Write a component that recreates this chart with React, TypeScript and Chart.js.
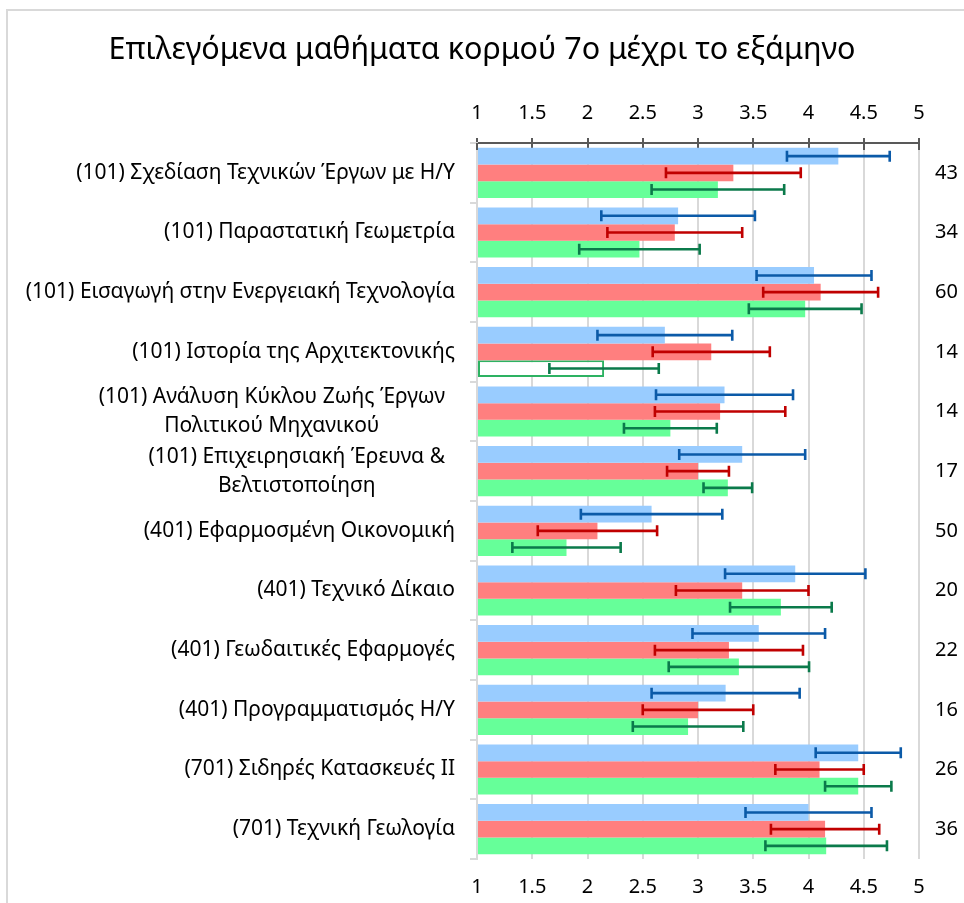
import React, { useEffect, useRef } from "react";
import { Chart, registerables } from "chart.js";

Chart.register(...registerables);

const FONT = "'Noto Sans', sans-serif";

const chartTitle = "Επιλεγόμενα μαθήματα κορμού 7ο μέχρι το εξάμηνο";

const categoryLines: string[][] = [
  ["(101) Σχεδίαση Τεχνικών Έργων με Η/Υ"],
  ["(101) Παραστατική Γεωμετρία"],
  ["(101) Εισαγωγή στην Ενεργειακή Τεχνολογία"],
  ["(101) Ιστορία της Αρχιτεκτονικής"],
  ["(101) Ανάλυση Κύκλου Ζωής Έργων", "Πολιτικού Μηχανικού"],
  ["(101) Επιχειρησιακή Έρευνα &", "Βελτιστοποίηση"],
  ["(401) Εφαρμοσμένη Οικονομική"],
  ["(401) Τεχνικό Δίκαιο"],
  ["(401) Γεωδαιτικές Εφαρμογές"],
  ["(401) Προγραμματισμός Η/Υ"],
  ["(701) Σιδηρές Κατασκευές ΙΙ"],
  ["(701) Τεχνική Γεωλογία"],
];

const countLabels = ["43", "34", "60", "14", "14", "17", "50", "20", "22", "16", "26", "36"];

const blueValues = [4.27, 2.82, 4.05, 2.7, 3.24, 3.4, 2.58, 3.88, 3.55, 3.25, 4.45, 4.0];
const blueErrors = [0.465, 0.695, 0.52, 0.61, 0.62, 0.57, 0.64, 0.635, 0.6, 0.67, 0.385, 0.57];

const redValues = [3.32, 2.79, 4.11, 3.12, 3.2, 3.0, 2.09, 3.4, 3.28, 3.0, 4.1, 4.15];
const redErrors = [0.61, 0.61, 0.52, 0.53, 0.59, 0.28, 0.54, 0.6, 0.67, 0.5, 0.4, 0.49];

const greenValues = [3.18, 2.47, 3.97, 2.15, 2.75, 3.27, 1.81, 3.75, 3.37, 2.91, 4.45, 4.16];
const greenErrors = [0.6, 0.545, 0.51, 0.495, 0.42, 0.22, 0.49, 0.46, 0.635, 0.5, 0.3, 0.55];

// index of the green bar drawn as an outline only
const outlinedGreenIndex = 3;

const AXIS_MIN = 1;
const AXIS_MAX = 5;
const AXIS_STEP = 0.5;

const TITLE_SIZE = 30.5;
const TITLE_PAD_TOP = 32;
const TITLE_PAD_BOTTOM = 8;
const CHART_TOP = 143;
const CHART_BOTTOM = 859;
const W = 964;
const H = 903;
const LABEL_SIZE = 21;
const TICK_SIZE = 20;

const series = [
  { label: "Σειρά 1", values: blueValues, errors: blueErrors, fill: "#99CCFF", err: "#0B5AA8" },
  { label: "Σειρά 2", values: redValues, errors: redErrors, fill: "#FF7F7F", err: "#C00000" },
  { label: "Σειρά 3", values: greenValues, errors: greenErrors, fill: "#66FF99", err: "#0B7A4B" },
];

const framePlugin = {
  id: "frame",
  beforeDraw(chart: any) {
    const { ctx } = chart;
    ctx.save();
    ctx.fillStyle = "#ffffff";
    ctx.fillRect(0, 0, chart.width, chart.height);
    ctx.strokeStyle = "#d9d9d9";
    ctx.lineWidth = 2;
    ctx.beginPath();
    ctx.moveTo(7, chart.height + 2);
    ctx.lineTo(7, 10);
    ctx.lineTo(chart.width + 2, 10);
    ctx.stroke();
    ctx.restore();
  },
  beforeDatasetsDraw(chart: any) {
    const { ctx, chartArea } = chart;
    const xs = chart.scales.x;
    ctx.save();
    ctx.strokeStyle = "#595959";
    ctx.lineWidth = 2;
    ctx.beginPath();
    xs.ticks.forEach((t: any) => {
      const px = Math.round(xs.getPixelForValue(t.value));
      ctx.moveTo(px, chartArea.top);
      ctx.lineTo(px, chartArea.top + 7);
    });
    ctx.stroke();
    ctx.restore();
  },
};

const errorBarPlugin = {
  id: "errorBars",
  afterDatasetsDraw(chart: any) {
    const { ctx } = chart;
    const xs = chart.scales.x;
    series.forEach((s, di) => {
      const meta = chart.getDatasetMeta(di);
      meta.data.forEach((bar: any, i: number) => {
        const v = s.values[i];
        const e = s.errors[i];
        const x1 = xs.getPixelForValue(v - e);
        const x2 = xs.getPixelForValue(v + e);
        const y = bar.y;
        const cap = 5.5;
        ctx.save();
        ctx.strokeStyle = s.err;
        ctx.lineWidth = 2.6;
        ctx.beginPath();
        ctx.moveTo(x1, y);
        ctx.lineTo(x2, y);
        ctx.moveTo(x1, y - cap);
        ctx.lineTo(x1, y + cap);
        ctx.moveTo(x2, y - cap);
        ctx.lineTo(x2, y + cap);
        ctx.stroke();
        ctx.restore();
      });
    });
  },
};

const categoryLabelPlugin = {
  id: "categoryLabels",
  afterDraw(chart: any) {
    const { ctx } = chart;
    const ys = chart.scales.y;
    const right = ys.right - 22;
    const lineH = 29;
    ctx.save();
    ctx.font = `${LABEL_SIZE}px ${FONT}`;
    ctx.fillStyle = "#000000";
    ctx.textBaseline = "middle";
    ctx.textAlign = "center";
    categoryLines.forEach((lines, i) => {
      const yc = ys.getPixelForValue(i);
      const bw = Math.max(...lines.map((l) => ctx.measureText(l).width));
      const cx = (lines.length > 1 ? right - 10 : right) - bw / 2;
      lines.forEach((l, j) => {
        ctx.fillText(l, cx, yc + (j - (lines.length - 1) / 2) * lineH);
      });
    });
    ctx.restore();
  },
};

export default function App() {
  const ref = useRef<HTMLCanvasElement | null>(null);

  useEffect(() => {
    document.body.style.margin = "0";
    if (!ref.current) return;
    const titleHeight = TITLE_PAD_TOP + TITLE_SIZE * 1.2 + TITLE_PAD_BOTTOM;
    const tickFont = { family: FONT, size: TICK_SIZE };
    const chart = new Chart(ref.current, {
      type: "bar",
      data: {
        labels: categoryLines.map((l) => l.join(" ")),
        datasets: series.map((s, di) => ({
          label: s.label,
          data: s.values,
          base: AXIS_MIN,
          xAxisID: "x",
          yAxisID: "y",
          backgroundColor: s.values.map((_, i) =>
            di === 2 && i === outlinedGreenIndex ? "#ffffff" : s.fill
          ),
          borderColor: s.values.map((_, i) =>
            di === 2 && i === outlinedGreenIndex ? "#2DB262" : s.fill
          ),
          borderWidth: s.values.map((_, i) => (di === 2 && i === outlinedGreenIndex ? 2 : 0)),
          borderSkipped: false,
          barPercentage: 1,
          categoryPercentage: 0.84,
        })),
      },
      options: {
        indexAxis: "y",
        responsive: false,
        animation: false,
        layout: { padding: 0 },
        plugins: {
          legend: { display: false },
          tooltip: { enabled: false },
          title: {
            display: true,
            text: chartTitle,
            color: "#000000",
            font: { family: FONT, size: TITLE_SIZE, weight: "normal", lineHeight: 1.2 },
            padding: { top: TITLE_PAD_TOP, bottom: TITLE_PAD_BOTTOM },
          },
        },
        scales: {
          x: {
            type: "linear",
            position: "top",
            min: AXIS_MIN,
            max: AXIS_MAX,
            ticks: {
              stepSize: AXIS_STEP,
              color: "#000000",
              font: tickFont,
              padding: 13,
              callback: (v: any) => String(v),
            },
            grid: {
              color: "#d9d9d9",
              lineWidth: 2,
              tickColor: "#595959",
              tickWidth: 2,
              tickLength: 5,
            },
            border: { color: "#595959", width: 2 },
            afterFit: (s: any) => {
              s.height = CHART_TOP - titleHeight;
            },
          },
          x2: {
            type: "linear",
            position: "bottom",
            min: AXIS_MIN,
            max: AXIS_MAX,
            ticks: {
              stepSize: AXIS_STEP,
              color: "#000000",
              font: tickFont,
              padding: 16,
              callback: (v: any) => String(v),
            },
            grid: { display: false, drawTicks: false },
            border: { display: false },
            afterFit: (s: any) => {
              s.height = H - CHART_BOTTOM;
            },
          },
          y: {
            type: "category",
            position: "left",
            offset: true,
            ticks: { display: false },
            grid: {
              offset: true,
              drawOnChartArea: false,
              color: "#d9d9d9",
              lineWidth: 2,
              tickLength: 7,
            },
            border: { color: "#d9d9d9", width: 2 },
            afterFit: (s: any) => {
              s.width = 477;
            },
          },
          y2: {
            type: "category",
            position: "right",
            labels: countLabels,
            offset: true,
            ticks: { color: "#000000", font: tickFont, padding: 16 },
            grid: { display: false, drawTicks: false },
            border: { display: false },
            afterFit: (s: any) => {
              s.width = 45;
            },
          },
        },
      },
      plugins: [framePlugin, errorBarPlugin, categoryLabelPlugin],
    } as any);
    return () => chart.destroy();
  }, []);

  return (
    <div style={{ width: W, height: H, background: "#fff" }}>
      <canvas ref={ref} width={W} height={H} style={{ display: "block" }} />
    </div>
  );
}
